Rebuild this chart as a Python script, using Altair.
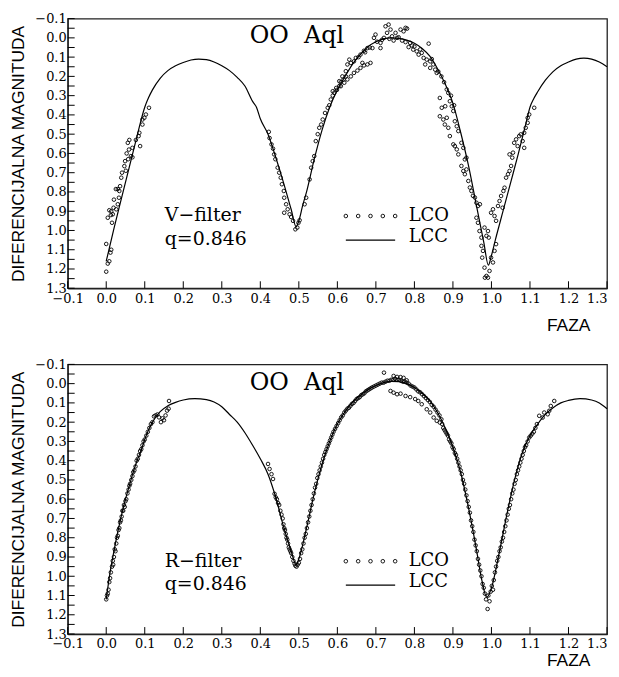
import altair as alt
import pandas as pd

# ---------------- data ----------------
X_LABELS = [-0.1, 0.0, 0.1, 0.2, 0.3, 0.4, 0.5, 0.6, 0.7, 0.8, 0.9, 1.0, 1.1, 1.2, 1.3]
Y_LABELS = [-0.1, 0.0, 0.1, 0.2, 0.3, 0.4, 0.5, 0.6, 0.7, 0.8, 0.9, 1.0, 1.1, 1.2, 1.3]
Y_TICKS = [-0.1, -0.05, 0.0, 0.05, 0.1, 0.15, 0.2, 0.25, 0.3, 0.35, 0.4, 0.45, 0.5, 0.55,
           0.6, 0.65, 0.7, 0.75, 0.8, 0.85, 0.9, 0.95, 1.0, 1.05, 1.1, 1.15, 1.2, 1.25, 1.3]

V_MODEL_PHASE = [0.000, 0.020, 0.040, 0.060, 0.080, 0.100, 0.110, 0.120, 0.140, 0.160, 0.180,
                 0.200, 0.220, 0.240, 0.260, 0.280, 0.300, 0.320, 0.340, 0.360, 0.380, 0.390,
                 0.400, 0.420, 0.440, 0.460, 0.480, 0.493, 0.500, 0.510, 0.520, 0.540, 0.560,
                 0.580, 0.600, 0.620, 0.640, 0.660, 0.680, 0.700, 0.720, 0.740, 0.760, 0.780,
                 0.800, 0.820, 0.840, 0.860, 0.880, 0.900, 0.920, 0.940, 0.960, 0.980, 0.992,
                 1.000, 1.010, 1.030, 1.050, 1.070, 1.090, 1.100, 1.110, 1.120, 1.140, 1.160,
                 1.180, 1.200, 1.220, 1.240, 1.260, 1.280, 1.300]
V_MODEL_MAG = [1.16, 0.99, 0.83, 0.67, 0.51, 0.36, 0.31, 0.27, 0.21, 0.17, 0.145,
               0.128, 0.115, 0.11, 0.113, 0.125, 0.145, 0.17, 0.205, 0.25, 0.33, 0.36,
               0.42, 0.50, 0.62, 0.75, 0.89, 0.98, 0.95, 0.87, 0.80, 0.63, 0.48,
               0.36, 0.27, 0.20, 0.135, 0.085, 0.045, 0.02, 0.005, 0.0, 0.003, 0.012,
               0.028, 0.055, 0.095, 0.16, 0.24, 0.34, 0.49, 0.66, 0.86, 1.06, 1.18,
               1.13, 1.05, 0.90, 0.75, 0.60, 0.44, 0.36, 0.315, 0.28, 0.22, 0.175,
               0.145, 0.125, 0.11, 0.105, 0.11, 0.125, 0.15]

V_OBS = [
    (0.000, 1.214), (0.004, 1.172), (0.008, 1.160), (0.011, 1.115), (0.013, 1.100), (0.000, 1.070),
    (0.004, 0.934), (0.008, 0.895), (0.012, 0.920), (0.015, 0.960), (0.017, 0.916), (0.013, 0.900),
    (0.019, 0.882), (0.026, 0.890), (0.030, 0.864), (0.020, 0.840), (0.033, 0.830), (0.034, 0.795),
    (0.030, 0.785), (0.036, 0.770), (0.025, 0.785), (0.039, 0.726), (0.041, 0.700), (0.047, 0.666),
    (0.051, 0.690), (0.049, 0.640), (0.057, 0.630), (0.064, 0.614), (0.068, 0.620), (0.053, 0.600),
    (0.059, 0.580), (0.068, 0.571), (0.056, 0.545), (0.060, 0.530), (0.077, 0.530), (0.084, 0.510),
    (0.086, 0.493), (0.088, 0.562), (0.094, 0.450), (0.099, 0.415), (0.103, 0.398), (0.094, 0.424),
    (0.111, 0.363),
    (0.422, 0.488), (0.424, 0.520), (0.429, 0.553), (0.433, 0.575), (0.436, 0.605), (0.439, 0.630),
    (0.445, 0.674), (0.449, 0.700), (0.453, 0.726), (0.456, 0.760), (0.461, 0.795), (0.462, 0.830),
    (0.467, 0.864), (0.471, 0.890), (0.462, 0.908), (0.476, 0.916), (0.480, 0.930), (0.485, 0.950),
    (0.491, 0.994), (0.496, 0.985), (0.499, 0.960), (0.502, 0.947),
    (0.515, 0.864), (0.519, 0.830), (0.528, 0.735), (0.532, 0.674), (0.536, 0.640), (0.540, 0.614),
    (0.544, 0.536), (0.549, 0.500), (0.553, 0.467), (0.558, 0.450), (0.562, 0.424), (0.568, 0.390),
    (0.575, 0.363), (0.579, 0.350), (0.583, 0.320), (0.588, 0.300), (0.592, 0.285), (0.599, 0.270),
    (0.605, 0.250), (0.609, 0.230), (0.616, 0.216), (0.622, 0.200),
    (0.588, 0.277), (0.597, 0.260), (0.605, 0.225), (0.613, 0.200), (0.622, 0.173), (0.626, 0.138),
    (0.635, 0.130), (0.631, 0.113), (0.643, 0.122), (0.648, 0.104), (0.609, 0.251), (0.618, 0.233),
    (0.626, 0.216), (0.635, 0.200), (0.643, 0.182), (0.652, 0.170), (0.660, 0.156), (0.669, 0.143),
    (0.678, 0.138), (0.686, 0.130), (0.665, 0.130), (0.660, 0.087), (0.669, 0.067), (0.678, 0.053),
    (0.695, 0.000), (0.699, -0.017), (0.712, 0.026), (0.691, 0.053), (0.712, 0.053), (0.721, 0.000),
    (0.725, -0.060), (0.733, -0.069), (0.738, -0.043), (0.729, -0.026), (0.742, -0.008), (0.746, 0.014),
    (0.751, -0.026), (0.759, -0.003), (0.764, -0.043), (0.772, -0.034), (0.777, -0.052), (0.781, -0.048),
    (0.768, 0.014), (0.777, 0.022), (0.789, 0.026), (0.785, 0.048), (0.794, 0.040), (0.797, 0.061),
    (0.806, 0.070), (0.811, 0.087), (0.819, 0.078), (0.837, 0.030), (0.824, 0.104), (0.832, 0.113),
    (0.828, 0.138), (0.841, 0.122), (0.841, 0.156), (0.849, 0.138), (0.854, 0.165), (0.858, 0.182),
    (0.655, 0.100), (0.672, 0.075), (0.684, 0.050), (0.703, 0.020), (0.716, 0.010), (0.735, 0.005),
    (0.755, 0.000), (0.800, 0.045), (0.815, 0.060), (0.845, 0.110), (0.862, 0.175),
    (0.866, 0.312), (0.871, 0.363), (0.880, 0.355), (0.866, 0.407), (0.875, 0.424), (0.884, 0.415),
    (0.879, 0.450), (0.888, 0.467), (0.892, 0.329), (0.897, 0.355), (0.901, 0.380), (0.905, 0.433),
    (0.910, 0.459), (0.914, 0.484), (0.892, 0.510), (0.901, 0.553), (0.905, 0.562), (0.910, 0.579),
    (0.914, 0.605), (0.922, 0.545), (0.927, 0.571), (0.931, 0.631), (0.935, 0.622), (0.922, 0.665),
    (0.927, 0.691), (0.931, 0.708), (0.935, 0.683), (0.940, 0.743), (0.944, 0.777), (0.948, 0.795),
    (0.952, 0.820), (0.957, 0.829), (0.961, 0.856), (0.965, 0.873), (0.970, 0.864), (0.961, 0.934),
    (0.965, 0.960), (0.969, 1.003), (0.974, 1.037), (0.974, 1.080), (0.978, 1.106), (0.976, 1.141),
    (0.982, 1.193), (0.987, 1.236), (0.983, 1.245), (0.991, 1.245), (0.995, 1.210), (0.982, 0.985),
    (0.991, 1.003), (0.987, 1.028), (0.993, 1.037), (0.999, 1.141), (1.004, 1.166), (1.008, 1.106),
    (1.012, 1.071), (0.999, 0.908), (1.004, 0.890), (1.008, 0.925), (1.012, 0.950), (1.017, 0.873),
    (1.021, 0.847), (1.025, 0.821), (1.029, 0.882), (1.031, 0.795), (1.034, 0.778), (1.038, 0.726),
    (1.043, 0.708), (1.047, 0.691), (1.051, 0.665), (1.047, 0.605), (1.054, 0.622), (1.056, 0.596),
    (1.059, 0.545), (1.064, 0.527), (1.068, 0.562), (1.072, 0.510), (1.076, 0.501), (1.081, 0.536),
    (1.085, 0.571), (1.085, 0.493), (1.089, 0.467), (1.094, 0.441), (1.094, 0.415), (1.098, 0.398),
    (1.111, 0.363),
    (0.870, 0.200), (0.877, 0.230), (0.884, 0.268), (0.888, 0.286), (0.895, 0.300), (0.903, 0.350),
]

R_MODEL_PHASE = [0.000, 0.010, 0.020, 0.030, 0.040, 0.050, 0.060, 0.070, 0.080, 0.090, 0.100,
                 0.110, 0.120, 0.140, 0.160, 0.180, 0.200, 0.230, 0.260, 0.280, 0.300, 0.320,
                 0.340, 0.360, 0.380, 0.400, 0.420, 0.440, 0.460, 0.480, 0.493, 0.500, 0.520,
                 0.540, 0.560, 0.580, 0.600, 0.620, 0.640, 0.660, 0.680, 0.700, 0.720, 0.740,
                 0.760, 0.780, 0.800, 0.820, 0.840, 0.860, 0.880, 0.900, 0.920, 0.940, 0.960,
                 0.975, 0.988, 1.000, 1.020, 1.040, 1.060, 1.080, 1.100, 1.120, 1.140, 1.160,
                 1.180, 1.200, 1.230, 1.260, 1.280, 1.300]
R_MODEL_MAG = [1.12, 0.98, 0.87, 0.77, 0.68, 0.60, 0.53, 0.46, 0.40, 0.35, 0.29,
               0.24, 0.20, 0.145, 0.115, 0.097, 0.085, 0.078, 0.083, 0.095, 0.12, 0.16,
               0.20, 0.255, 0.32, 0.39, 0.47, 0.59, 0.74, 0.87, 0.94, 0.91, 0.75,
               0.57, 0.42, 0.30, 0.21, 0.145, 0.095, 0.06, 0.03, 0.01, -0.005, -0.012,
               -0.01, 0.0, 0.02, 0.05, 0.09, 0.15, 0.23, 0.33, 0.46, 0.64, 0.85,
               1.02, 1.11, 1.06, 0.88, 0.68, 0.50, 0.36, 0.27, 0.21, 0.16, 0.125,
               0.10, 0.087, 0.078, 0.085, 0.10, 0.13]

R_OBS = [
    (0.000, 1.120), (0.002, 1.100), (0.004, 1.090), (0.006, 1.070), (0.008, 1.030), (0.010, 1.010),
    (0.012, 0.980), (0.015, 0.950), (0.017, 0.920), (0.018, 0.940), (0.020, 0.900), (0.022, 0.860),
    (0.024, 0.870), (0.026, 0.830), (0.028, 0.800), (0.030, 0.790), (0.032, 0.760), (0.034, 0.750),
    (0.036, 0.720), (0.038, 0.710), (0.040, 0.690), (0.042, 0.660), (0.044, 0.660), (0.046, 0.630),
    (0.048, 0.640), (0.050, 0.610), (0.052, 0.600), (0.055, 0.570), (0.058, 0.550), (0.060, 0.530),
    (0.062, 0.520), (0.065, 0.500), (0.068, 0.480), (0.070, 0.460), (0.073, 0.450), (0.076, 0.430),
    (0.079, 0.400), (0.082, 0.390), (0.085, 0.370), (0.088, 0.350), (0.091, 0.340), (0.094, 0.320),
    (0.097, 0.300), (0.100, 0.290), (0.104, 0.270), (0.108, 0.250), (0.112, 0.230), (0.116, 0.210),
    (0.120, 0.200), (0.124, 0.170), (0.128, 0.165), (0.133, 0.160), (0.137, 0.175), (0.142, 0.200),
    (0.146, 0.180), (0.150, 0.190), (0.154, 0.165), (0.158, 0.140), (0.162, 0.130), (0.163, 0.090),
    (0.420, 0.417), (0.424, 0.443), (0.429, 0.470), (0.433, 0.495), (0.437, 0.572), (0.440, 0.590),
    (0.443, 0.600), (0.446, 0.620), (0.449, 0.630), (0.452, 0.660), (0.455, 0.680), (0.458, 0.700),
    (0.460, 0.730), (0.462, 0.750), (0.464, 0.760), (0.466, 0.780), (0.468, 0.800), (0.470, 0.810),
    (0.472, 0.830), (0.474, 0.850), (0.476, 0.860), (0.478, 0.870), (0.480, 0.880), (0.483, 0.900),
    (0.486, 0.920), (0.489, 0.935), (0.491, 0.945), (0.494, 0.950), (0.497, 0.940), (0.500, 0.930),
    (0.503, 0.910), (0.506, 0.880), (0.509, 0.860), (0.512, 0.830), (0.515, 0.800), (0.518, 0.780),
    (0.521, 0.750), (0.524, 0.720), (0.527, 0.690), (0.530, 0.660), (0.533, 0.630), (0.536, 0.600),
    (0.539, 0.570), (0.542, 0.540), (0.545, 0.520), (0.548, 0.490), (0.551, 0.470), (0.554, 0.450),
    (0.557, 0.430), (0.560, 0.410), (0.563, 0.390), (0.566, 0.370), (0.569, 0.355), (0.572, 0.340),
    (0.575, 0.325), (0.578, 0.310), (0.581, 0.295), (0.584, 0.280), (0.587, 0.265), (0.590, 0.250),
    (0.594, 0.235), (0.598, 0.220), (0.602, 0.205), (0.606, 0.190), (0.610, 0.175), (0.614, 0.165),
    (0.618, 0.150), (0.622, 0.140),
    (0.626, 0.130), (0.630, 0.125), (0.634, 0.115), (0.638, 0.105), (0.642, 0.100), (0.646, 0.090),
    (0.650, 0.080), (0.654, 0.075), (0.658, 0.070), (0.662, 0.060), (0.666, 0.055), (0.670, 0.050),
    (0.674, 0.040), (0.678, 0.035), (0.682, 0.030), (0.686, 0.025), (0.690, 0.020), (0.695, 0.015),
    (0.700, 0.010), (0.705, 0.005), (0.710, 0.000), (0.715, -0.005), (0.720, -0.005), (0.725, -0.010),
    (0.730, -0.015), (0.735, -0.015), (0.740, -0.020), (0.745, -0.020), (0.750, -0.025), (0.755, -0.020),
    (0.760, -0.020), (0.765, -0.015), (0.770, -0.010), (0.775, -0.010), (0.780, -0.005), (0.785, 0.000),
    (0.790, 0.010), (0.795, 0.015), (0.800, 0.020), (0.805, 0.030), (0.810, 0.040), (0.815, 0.045),
    (0.820, 0.055), (0.825, 0.065), (0.830, 0.075), (0.835, 0.085), (0.840, 0.095), (0.845, 0.110),
    (0.850, 0.120), (0.855, 0.135), (0.860, 0.150), (0.865, 0.165), (0.870, 0.185),
    (0.721, -0.057), (0.746, -0.040), (0.755, -0.035), (0.764, -0.034), (0.772, -0.030), (0.780, -0.017),
    (0.738, 0.038), (0.746, 0.047), (0.755, 0.055), (0.764, 0.052), (0.777, 0.064), (0.789, 0.070),
    (0.802, 0.080), (0.810, 0.090), (0.819, 0.107), (0.832, 0.133), (0.841, 0.150), (0.850, 0.176),
    (0.858, 0.193), (0.866, 0.202), (0.872, 0.210),
    (0.875, 0.230), (0.878, 0.240), (0.881, 0.250), (0.884, 0.260), (0.887, 0.270), (0.890, 0.290),
    (0.893, 0.300), (0.896, 0.310), (0.899, 0.330), (0.902, 0.340), (0.905, 0.360), (0.908, 0.370),
    (0.911, 0.390), (0.914, 0.410), (0.917, 0.430), (0.920, 0.450), (0.923, 0.470), (0.926, 0.500),
    (0.929, 0.520), (0.932, 0.550), (0.935, 0.580), (0.938, 0.610), (0.941, 0.640), (0.944, 0.670),
    (0.947, 0.710), (0.950, 0.740), (0.953, 0.770), (0.956, 0.810), (0.959, 0.840), (0.962, 0.870),
    (0.965, 0.910), (0.968, 0.940), (0.971, 0.970), (0.974, 1.000), (0.977, 1.040), (0.980, 1.060),
    (0.983, 1.090), (0.986, 1.120), (0.990, 1.170), (0.992, 1.100), (0.995, 1.130), (0.998, 1.080),
    (1.001, 1.050), (1.004, 1.070), (1.006, 1.020), (1.009, 0.980), (1.012, 0.950), (1.015, 0.920),
    (1.018, 0.900), (1.021, 0.870), (1.024, 0.850), (1.027, 0.820), (1.030, 0.800), (1.033, 0.770),
    (1.036, 0.740), (1.039, 0.710), (1.042, 0.680), (1.045, 0.650), (1.048, 0.630), (1.051, 0.600),
    (1.054, 0.570), (1.057, 0.550), (1.060, 0.520), (1.063, 0.500), (1.066, 0.470), (1.069, 0.450),
    (1.072, 0.430), (1.075, 0.410), (1.078, 0.390), (1.081, 0.370), (1.084, 0.350), (1.087, 0.330),
    (1.090, 0.320), (1.094, 0.300), (1.098, 0.280), (1.102, 0.270), (1.106, 0.260), (1.110, 0.250),
    (1.114, 0.230), (1.118, 0.210), (1.124, 0.167), (1.133, 0.176), (1.137, 0.150), (1.146, 0.159),
    (1.150, 0.141), (1.154, 0.116), (1.163, 0.090),
]

TITLE_TEXT = "OO\u00a0\u00a0Aql"
LEGEND_LABELS = ["LCO", "LCC"]
Q_TEXT = "q=0.846"

# annotation anchors (data coordinates)
LEGEND_DOT_PHASE = [0.622, 0.654, 0.686, 0.718, 0.750]

W, H = 542, 271

XS = alt.Scale(domain=[-0.1, 1.3], nice=False, zero=False)
YS = alt.Scale(domain=[-0.1, 1.3], nice=False, zero=False, reverse=True)


def x_axis(title_y):
    return alt.Axis(values=X_LABELS, format=".1f", tickSize=0, labelPadding=4,
                    labelOverlap=False, labelFlush=False,
                    labelAlign={"condition": {"test": "datum.value > 1.25", "value": "right"},
                                "value": "center"},
                    title="FAZA", titleX=503, titleY=title_y, titleAlign="center",
                    titleBaseline="alphabetic", grid=False)


YAX = alt.Axis(values=Y_LABELS, format=".1f", tickSize=0, labelPadding=1.5,
               labelOverlap=False, labelFlush=False,
               title="DIFERENCIJALNA MAGNITUDA", titlePadding=7.5, grid=False)


def panel(model_phase, model_mag, obs, filter_name, title_y, leg_y1, leg_y2, txt_y1, txt_y2, faza_y):
    xax = x_axis(faza_y)

    def X(field):
        return alt.X(field, scale=XS, axis=xax)

    def Y(field):
        return alt.Y(field, scale=YS, axis=YAX)

    model_df = pd.DataFrame({"phase": model_phase, "mag": model_mag})
    obs_df = pd.DataFrame(obs, columns=["phase", "mag"])

    line = alt.Chart(model_df).mark_line(color="black", strokeWidth=1.2, interpolate="monotone").encode(
        x=X("phase:Q"), y=Y("mag:Q"))
    pts = alt.Chart(obs_df).mark_point(shape="circle", filled=False, size=13, strokeWidth=0.9,
                                       color="black", opacity=1).encode(
        x=X("phase:Q"), y=Y("mag:Q"))
    yt = alt.Chart(pd.DataFrame({"phase": [-0.1] * len(Y_TICKS), "mag": Y_TICKS})).mark_rule(
        color="black", strokeWidth=1).encode(
        y=Y("mag:Q"), x=alt.value(0), x2=alt.value(7))
    xt = alt.Chart(pd.DataFrame({"phase": X_LABELS})).mark_rule(color="black", strokeWidth=1).encode(
        x=X("phase:Q"), y=alt.value(H), y2=alt.value(H - 7))

    title = alt.Chart(pd.DataFrame({"phase": [0.495], "mag": [title_y], "s": [TITLE_TEXT]})).mark_text(
        font="DejaVu Serif", fontSize=24, color="black", align="center", baseline="middle").encode(
        x=X("phase:Q"), y=Y("mag:Q"), text="s:N")
    ftxt = alt.Chart(pd.DataFrame({"phase": [0.152, 0.152], "mag": [txt_y1, txt_y2],
                                   "s": [filter_name + "\u2212filter", Q_TEXT]})).mark_text(
        font="DejaVu Serif", fontSize=19, color="black", align="left", baseline="middle").encode(
        x=X("phase:Q"), y=Y("mag:Q"), text="s:N")
    ltxt = alt.Chart(pd.DataFrame({"phase": [0.785, 0.785], "mag": [leg_y1, leg_y2 - 0.015],
                                   "s": LEGEND_LABELS})).mark_text(
        font="DejaVu Serif", fontSize=18, color="black", align="left", baseline="middle").encode(
        x=X("phase:Q"), y=Y("mag:Q"), text="s:N")
    ldots = alt.Chart(pd.DataFrame({"phase": LEGEND_DOT_PHASE,
                                    "mag": [leg_y1] * len(LEGEND_DOT_PHASE)})).mark_point(
        shape="circle", filled=False, size=13, strokeWidth=0.9, color="black", opacity=1).encode(
        x=X("phase:Q"), y=Y("mag:Q"))
    lline = alt.Chart(pd.DataFrame({"phase": [LEGEND_DOT_PHASE[0]], "phase2": [LEGEND_DOT_PHASE[-1]],
                                    "mag": [leg_y2]})).mark_rule(color="black", strokeWidth=1.2).encode(
        x=X("phase:Q"), x2="phase2:Q", y=Y("mag:Q"))

    return alt.layer(line, pts, yt, xt, title, ftxt, ltxt, ldots, lline).properties(width=W, height=H)


top = panel(V_MODEL_PHASE, V_MODEL_MAG, V_OBS, "V", -0.008, 0.925, 1.05, 0.92, 1.044, 42)
bottom = panel(R_MODEL_PHASE, R_MODEL_MAG, R_OBS, "R", -0.005, 0.922, 1.046, 0.919, 1.04, 32)

chart = alt.vconcat(top, bottom, spacing=22.5).properties(
    padding={"left": 0, "top": 2, "right": 0, "bottom": 0}
).configure_view(stroke="#222", strokeWidth=1.3).configure_axis(
    domainColor="#222", domainWidth=1.3, labelFont="DejaVu Serif", labelFontSize=13,
    labelColor="black", titleFont="Liberation Sans", titleFontSize=17.5, titleFontWeight="normal",
    titleColor="black"
)

chart.save("out.html", embed_options={"renderer": "svg", "actions": False})
